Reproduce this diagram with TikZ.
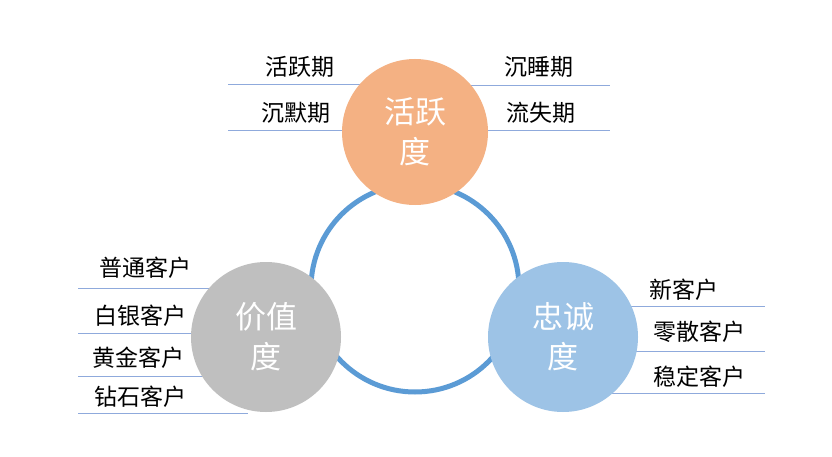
\documentclass[tikz,border=0pt]{standalone}
\usepackage{fontspec}
\newfontfamily\cjk{Noto Sans CJK SC}
\definecolor{rulec}{RGB}{143,170,220}
\begin{document}
\begin{tikzpicture}[x=1pt,y=-1pt,
  lab/.style={font=\cjk\fontsize{23}{26}\selectfont,text=black,inner sep=0},
  big/.style={circle,minimum size=150pt,inner sep=0,align=center,text=white,font=\cjk\fontsize{31}{40}\selectfont},
  rule/.style={draw=rulec,line width=0.8pt}]
\useasboundingbox (0,0) rectangle (832,457);
\fill[white] (0,0) rectangle (832,457);
\node[draw={rgb,255:red,91;green,155;blue,213},line width=5pt,circle,minimum size=208pt,inner sep=0] (ring) at (415,288) {};
% lines
\coordinate (a1) at (228,84); \coordinate (a2) at (370,84);
\coordinate (b1) at (228,130); \coordinate (b2) at (360,130);
\coordinate (c1) at (460,85); \coordinate (c2) at (610,85);
\coordinate (d1) at (470,130); \coordinate (d2) at (610,130);
\draw[rule] (a1)--(a2); \draw[rule] (b1)--(b2); \draw[rule] (c1)--(c2); \draw[rule] (d1)--(d2);
\coordinate (e1) at (78,288); \coordinate (e2) at (230,288);
\coordinate (f1) at (78,333); \coordinate (f2) at (230,333);
\coordinate (g1) at (78,376); \coordinate (g2) at (230,376);
\coordinate (h1) at (78,413); \coordinate (h2) at (248,413);
\draw[rule] (e1)--(e2); \draw[rule] (f1)--(f2); \draw[rule] (g1)--(g2); \draw[rule] (h1)--(h2);
\coordinate (i1) at (600,306); \coordinate (i2) at (765,306);
\coordinate (j1) at (600,351); \coordinate (j2) at (765,351);
\coordinate (k1) at (600,393); \coordinate (k2) at (765,393);
\draw[rule] (i1)--(i2); \draw[rule] (j1)--(j2); \draw[rule] (k1)--(k2);
% circles
\node[big,fill={rgb,255:red,244;green,177;blue,131},minimum size=146pt] (act) at (415,132) {活跃\\度};
\node[big,fill={rgb,255:red,191;green,191;blue,191}] (val) at (266,337) {价值\\度};
\node[big,fill={rgb,255:red,157;green,195;blue,230}] (loy) at (563,337) {忠诚\\度};
% labels
\node[lab] (l1) at (300,67) {活跃期};
\node[lab] (l2) at (296,113) {沉默期};
\node[lab] (l3) at (539,67) {沉睡期};
\node[lab] (l4) at (541,113) {流失期};
\node[lab] (l5) at (145,268) {普通客户};
\node[lab] (l6) at (140,316) {白银客户};
\node[lab] (l7) at (138,358) {黄金客户};
\node[lab] (l8) at (140,397) {钻石客户};
\node[lab] (l9) at (684,290) {新客户};
\node[lab] (l10) at (699,332) {零散客户};
\node[lab] (l11) at (699,377) {稳定客户};
\end{tikzpicture}
\end{document}
